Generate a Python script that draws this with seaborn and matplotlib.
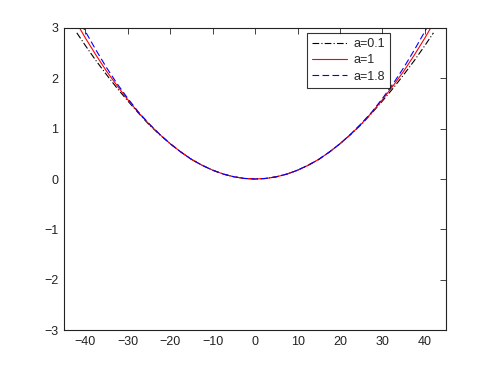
import matplotlib
matplotlib.use("Agg")
import matplotlib.pyplot as plt
import seaborn as sns
import pandas as pd

sns.set_theme(style="white")
plt.rcParams['font.family'] = ['Liberation Sans', 'DejaVu Sans']

x_vals = [-42, -40, -37.5, -35, -32.5, -30, -27.5, -25, -22.5, -20, -17.5, -15,
          -12.5, -10, -7.5, -5, -2.5, 0,
          2.5, 5, 7.5, 10, 12.5, 15, 17.5, 20, 22.5, 25, 27.5, 30, 32.5, 35,
          37.5, 40, 42]
half_red = [3.09, 2.80, 2.46, 2.14, 1.85, 1.575, 1.32, 1.09, 0.886, 0.70, 0.536,
            0.39, 0.273, 0.175, 0.098, 0.044, 0.011]
half_black = [2.90, 2.65, 2.35, 2.07, 1.80, 1.55, 1.31, 1.08, 0.882, 0.70, 0.536,
              0.39, 0.273, 0.175, 0.098, 0.044, 0.011]
half_blue = [3.25, 2.93, 2.56, 2.21, 1.89, 1.60, 1.33, 1.10, 0.890, 0.70, 0.536,
             0.39, 0.273, 0.175, 0.098, 0.044, 0.011]
y_a01 = half_black + [0.0] + half_black[::-1]
y_a1 = half_red + [0.0] + half_red[::-1]
y_a18 = half_blue + [0.0] + half_blue[::-1]
labels = ["a=0.1", "a=1", "a=1.8"]
x_ticks = [-40, -30, -20, -10, 0, 10, 20, 30, 40]
y_ticks = [-3, -2, -1, 0, 1, 2, 3]

fig = plt.figure(figsize=(4.93, 3.71), dpi=100)
ax = fig.add_axes([0.13, 0.11, 0.775, 0.815])

styles = [("black", (0, (6, 2, 1, 2))), ("red", "-"), ("blue", (0, (6, 3)))]
for yv, lab, (c, ls) in zip([y_a01, y_a1, y_a18], labels, styles):
    df = pd.DataFrame({"x": x_vals, "y": yv})
    sns.lineplot(data=df, x="x", y="y", ax=ax, color=c, linestyle=ls,
                 linewidth=0.8, label=lab, sort=False, estimator=None)

ax.set_xlim(-45, 45)
ax.set_ylim(-3, 3)
ax.set_xticks(x_ticks)
ax.set_yticks(y_ticks)
ax.set_xlabel("")
ax.set_ylabel("")
ax.tick_params(direction="in", length=4, width=0.6, top=True, right=True,
               labelsize=9, colors="#222222", pad=4)
for s in ax.spines.values():
    s.set_color("#222222")
    s.set_linewidth(0.8)

leg = ax.legend(loc="upper right", bbox_to_anchor=(0.853, 0.983), fontsize=9,
                frameon=True, fancybox=False, handlelength=2.8,
                borderaxespad=0, borderpad=0.4, labelspacing=0.35,
                handletextpad=0.5)
leg.get_frame().set_edgecolor("black")
leg.get_frame().set_linewidth(0.8)

fig.savefig("out.png", dpi=100)
